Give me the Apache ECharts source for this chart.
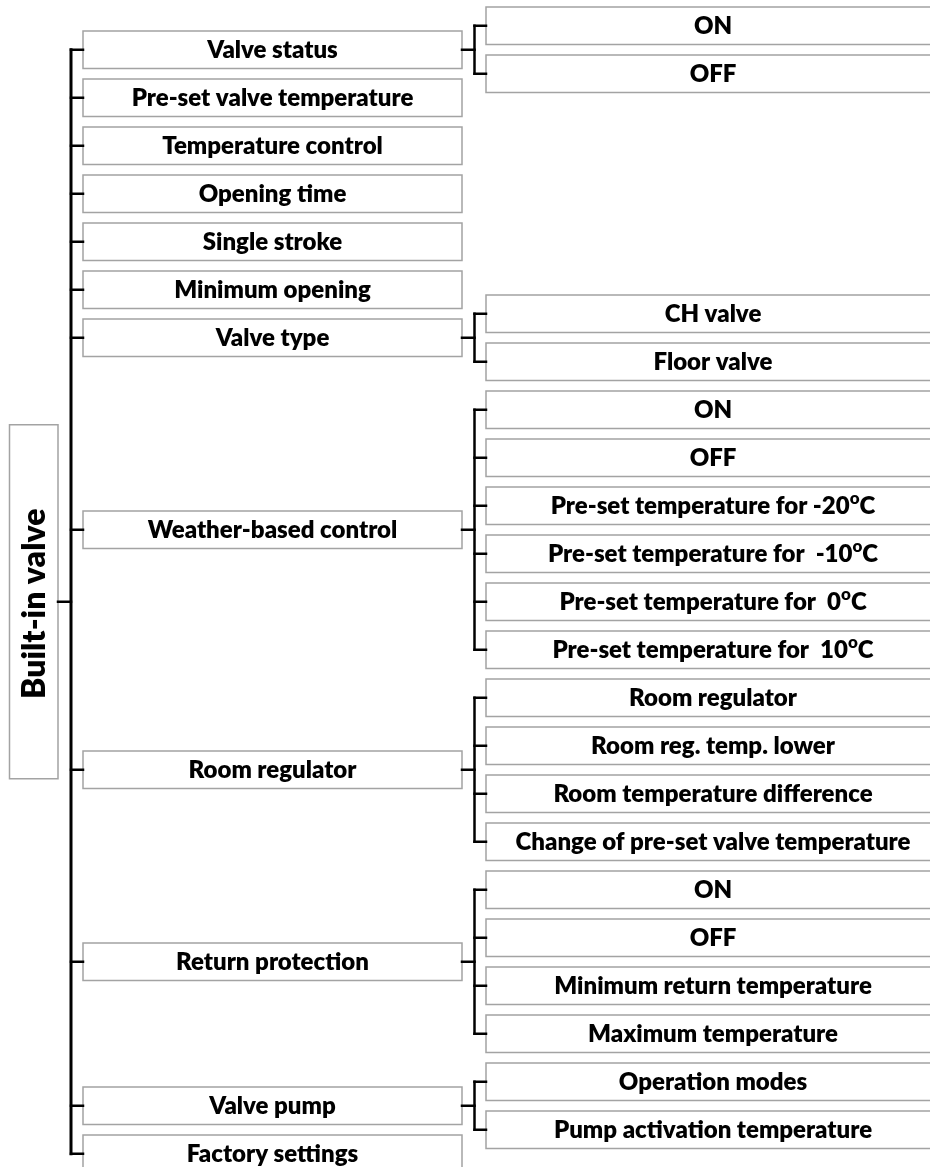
<!DOCTYPE html>
<html><head><meta charset="utf-8">
<script src="https://cdn.jsdelivr.net/npm/echarts@6/dist/echarts.min.js"></script>
<style>html,body{margin:0;padding:0;background:#fff}#c{width:930px;height:1167px}</style>
</head><body><div id="c"></div>
<script>
// ---------- data ----------
const rootLabel = 'Built-in valve';
const menuItems = ['Valve status','Pre-set valve temperature','Temperature control','Opening time','Single stroke','Minimum opening','Valve type','Weather-based control','Room regulator','Return protection','Valve pump','Factory settings'];
const valveStatusOptions = ['ON','OFF'];
const valveTypeOptions = ['CH valve','Floor valve'];
const weatherOptions = ['ON','OFF','Pre-set temperature for -20{sup|o}C','Pre-set temperature for  -10{sup|o}C','Pre-set temperature for  0{sup|o}C','Pre-set temperature for  10{sup|o}C'];
const roomRegulatorOptions = ['Room regulator','Room reg. temp. lower','Room temperature difference','Change of pre-set valve temperature'];
const returnProtectionOptions = ['ON','OFF','Minimum return temperature','Maximum temperature'];
const valvePumpOptions = ['Operation modes','Pump activation temperature'];
const subMenus = {
  'Valve status': valveStatusOptions,
  'Valve type': valveTypeOptions,
  'Weather-based control': weatherOptions,
  'Room regulator': roomRegulatorOptions,
  'Return protection': returnProtectionOptions,
  'Valve pump': valvePumpOptions
};

// ---------- style / layout constants ----------
const X = {rootL: 9.5, rootR: 58, trunk: 71, l1L: 83, l1R: 462, bracket: 474.5, l2L: 486, l2R: 940};
const BOX_H = 37.5, ROOT_H = 354;
const FONT = 'Lato';
const WEIGHT = 800;
const FS = 24, LH = 34;
const BORDER = '#a3a3a3';

// ---------- tree layout (rows) ----------
const level1 = [], level2 = [], brackets = [];
let leftNext = 0.5, rightNext = 0;
menuItems.forEach(name => {
  const kids = subMenus[name] || [];
  let row;
  if (kids.length) {
    const start = Math.max(rightNext, leftNext - (kids.length - 1) / 2);
    const rows = kids.map((k, i) => start + i);
    kids.forEach((k, i) => level2.push({name: k, row: start + i}));
    row = start + (kids.length - 1) / 2;
    rightNext = start + kids.length;
    brackets.push({row, rows});
  } else {
    row = leftNext;
  }
  level1.push({name, row});
  leftNext = row + 1;
});
const firstRow = level1[0].row, lastRow = level1[level1.length - 1].row;
const rootRow = (firstRow + lastRow) / 2;

// boxes: [x0, x1, row, level]
const boxes = [];
const boxNames = [];
boxes.push([X.rootL, X.rootR, rootRow, 0]); boxNames.push(rootLabel);
level1.forEach(n => { boxes.push([X.l1L, X.l1R, n.row, 1]); boxNames.push(n.name); });
level2.forEach(n => { boxes.push([X.l2L, X.l2R, n.row, 2]); boxNames.push(n.name); });

// segments: [x0,row0,x1,row1,kind]
const segs = [];
segs.push([X.rootR, rootRow, X.trunk, rootRow, 1]);
segs.push([X.trunk, firstRow, X.trunk, lastRow, 2]);
level1.forEach(n => segs.push([X.trunk, n.row, X.l1L, n.row, 1]));
brackets.forEach(b => {
  segs.push([X.l1R, b.row, X.bracket, b.row, 1]);
  segs.push([X.bracket, b.rows[0], X.bracket, b.rows[b.rows.length - 1], 1]);
  b.rows.forEach(r => segs.push([X.bracket, r, X.l2L, r, 1]));
});

const chart = echarts.init(document.getElementById('c'), null, {renderer: 'canvas'});
chart.setOption({
  backgroundColor: '#fff',
  animation: false,
  grid: {left: 0, width: 930, top: 1.75, height: 1152, containLabel: false},
  xAxis: {type: 'value', min: 0, max: 930, show: false},
  yAxis: {type: 'value', min: -0.5, max: 23.5, inverse: true, show: false},
  series: [
    {
      type: 'custom', clip: false,
      data: boxes,
      renderItem: (params, api) => {
        const row = api.value(2), lvl = api.value(3);
        const p0 = api.coord([api.value(0), row]);
        const p1 = api.coord([api.value(1), row]);
        const h = lvl === 0 ? ROOT_H : BOX_H;
        const cx = (p0[0] + p1[0]) / 2, cy = p0[1];
        const label = boxNames[params.dataIndex];
        const children = [{
          type: 'rect',
          shape: {x: p0[0], y: cy - h / 2, width: p1[0] - p0[0], height: h},
          style: {fill: '#fff', stroke: BORDER, lineWidth: 1.5}
        }];
        if (lvl === 0) {
          children.push({
            type: 'text', x: cx + 1, y: cy + 2, rotation: Math.PI / 2,
            style: {text: label, x: 0, y: 0, align: 'center', verticalAlign: 'middle',
              fill: '#000', fontFamily: FONT, fontWeight: WEIGHT, fontSize: 32}
          });
        } else {
          children.push({
            type: 'text',
            style: {text: label, x: cx, y: cy + 1, align: 'center', verticalAlign: 'middle',
              fill: '#000', fontFamily: FONT, fontWeight: WEIGHT, fontSize: FS, lineHeight: LH,
              rich: {sup: {fontFamily: FONT, fontWeight: WEIGHT, fontSize: 17, fill: '#000', verticalAlign: 'top', lineHeight: LH}}}
          });
        }
        return {type: 'group', children};
      }
    },
    {
      type: 'custom', clip: false,
      data: segs,
      renderItem: (params, api) => {
        const a = api.coord([api.value(0), api.value(1)]);
        const b = api.coord([api.value(2), api.value(3)]);
        const w = api.value(4) === 2 ? 3 : 2.5;
        return {type: 'line', shape: {x1: a[0], y1: a[1], x2: b[0], y2: b[1]},
          style: {stroke: '#000', lineWidth: w, lineCap: 'square'}};
      }
    }
  ]
});
</script></body></html>
